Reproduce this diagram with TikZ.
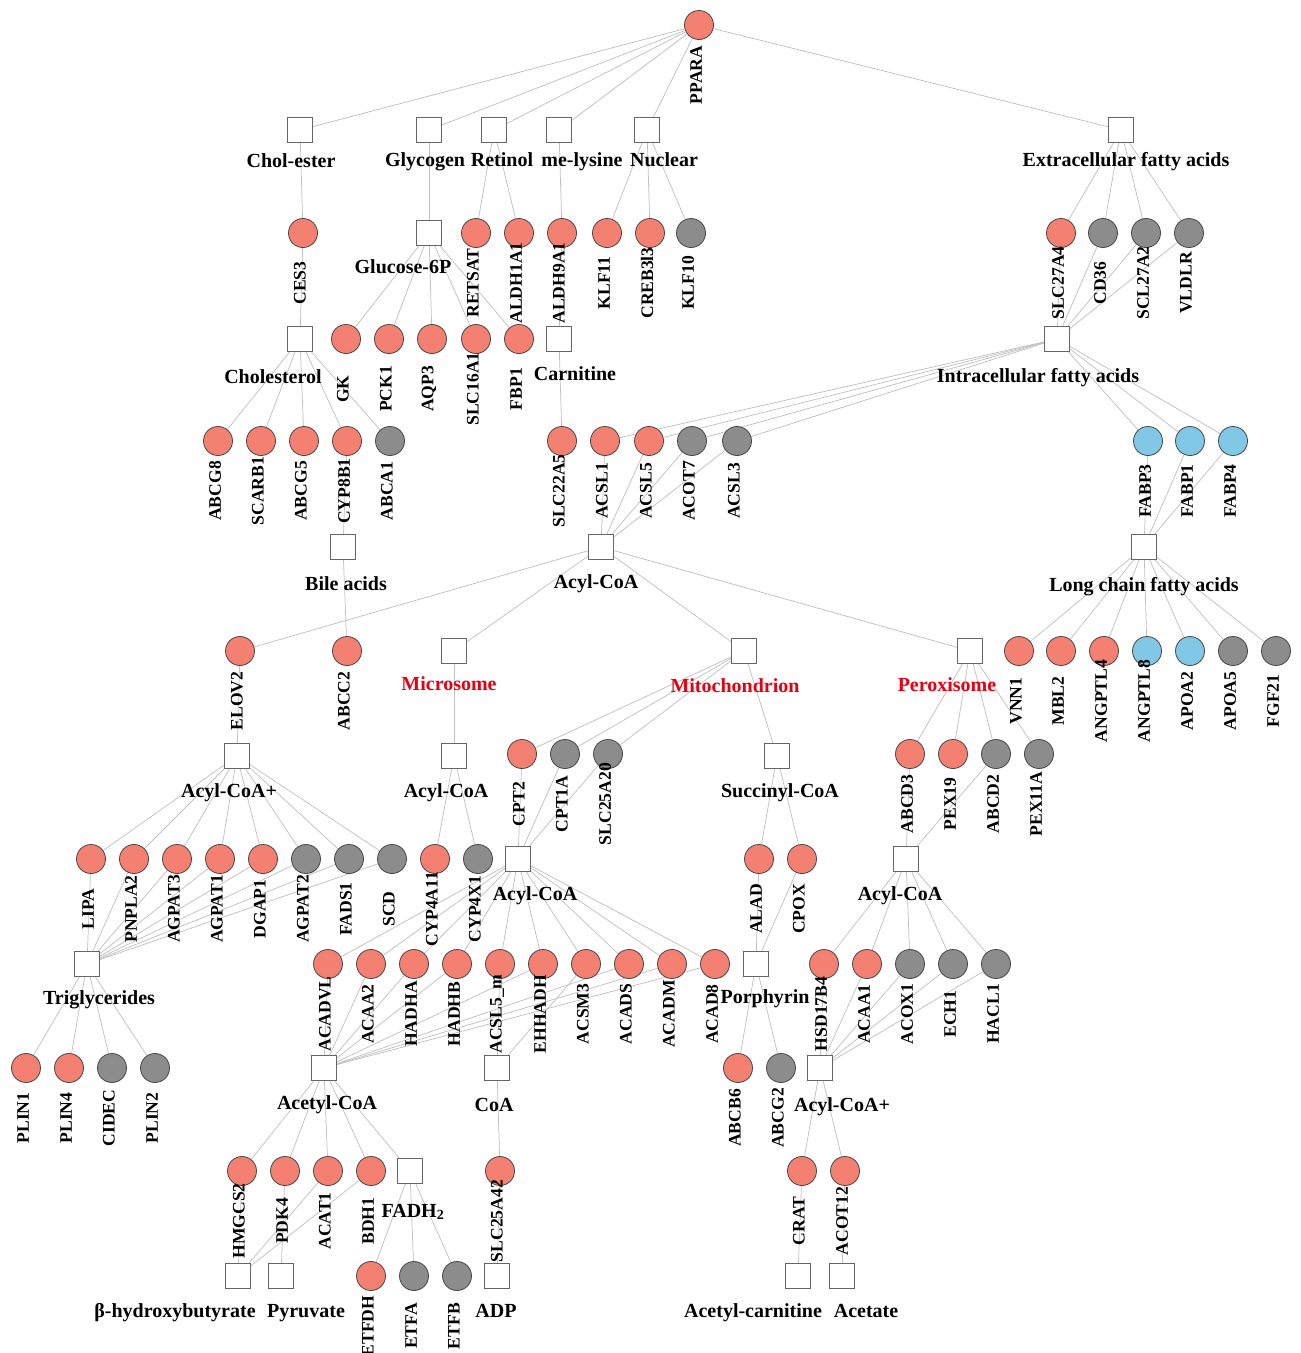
\documentclass[tikz,border=0pt]{standalone}
\usepackage{fontspec}
\setmainfont{Liberation Serif}
\usetikzlibrary{backgrounds}
\definecolor{redf}{RGB}{244,128,114}
\definecolor{greyf}{RGB}{140,140,140}
\definecolor{bluef}{RGB}{128,200,230}
\definecolor{edgec}{RGB}{192,192,192}
\definecolor{txtred}{RGB}{230,0,18}
\tikzset{
 gene/.style={circle, draw=black!72, line width=0.6pt, minimum size=21.75pt, inner sep=0pt},
 gred/.style={gene, fill=redf},
 ggry/.style={gene, fill=greyf},
 gblu/.style={gene, fill=bluef},
 met/.style={rectangle, draw=black!60, line width=0.7pt, fill=white, minimum size=18.75pt, inner sep=0pt},
 glab/.style={rotate=90, font=\bfseries\fontsize{13.2}{15}\selectfont, inner sep=0pt},
 mlab/.style={font=\bfseries\fontsize{15}{17}\selectfont, inner sep=0pt, anchor=base},
 clab/.style={mlab, text=txtred},
 edge/.style={draw=edgec, line width=0.55pt},
}
\newcommand{\gn}[5]{\node[#4] (#1) at (#2,#3) {}; \node[glab] (#1-l) at (#2-3,#3+50) {#5};}
\newcommand{\mn}[7][mlab]{\node[met] (#2) at (#3,#4) {}; \node[#1] (#2-l) at (#6,#7) {#5};}
\newcommand{\ed}[2]{\foreach \t in {#2} {\draw[edge] (#1) -- (\t);}}
\begin{document}
\begin{tikzpicture}[x=0.75pt,y=-0.75pt]
\useasboundingbox (0,0) rectangle (1300,1353);
% row 1
\gn{PPARA}{699}{25}{gred}{PPARA}
% row 2
\mn{cholester}{300}{130}{Chol-ester}{291}{167}
\mn{glycogen}{429}{130}{Glycogen}{425}{166}
\mn{retinol}{494}{130}{Retinol}{502}{166}
\mn{melys}{559}{130}{me-lysine}{582}{166}
\mn{nuclear}{647}{130}{Nuclear}{664}{166}
\mn{extra}{1121}{130}{Extracellular fatty acids}{1126}{166}
% row 3
\gn{CES3}{303}{233}{gred}{CES3}
\mn{gsix}{429}{233}{Glucose-6P}{403}{273}
\gn{RETSAT}{476}{233}{gred}{RETSAT}
\gn{ALDHoneAone}{519}{233}{gred}{ALDH1A1}
\gn{ALDHnineAone}{562}{233}{gred}{ALDH9A1}
\gn{KLFeleven}{607}{233}{gred}{KLF11}
\gn{CREB}{650}{233}{gred}{CREB3l3}
\gn{KLFten}{691}{233}{ggry}{KLF10}
\gn{SLCtwosevenAfour}{1061}{233}{gred}{SLC27A4}
\gn{CDthreesix}{1103}{233}{ggry}{CD36}
\gn{SCLtwosevenAtwo}{1146}{233}{ggry}{SCL27A2}
\gn{VLDLR}{1189}{233}{ggry}{VLDLR}
% row 4
\mn{cholesterol}{300}{339}{Cholesterol}{273}{383}
\gn{GK}{346}{339}{gred}{GK}
\gn{PCKone}{389}{339}{gred}{PCK1}
\gn{AQPthree}{432}{339}{gred}{AQP3}
\gn{SLConesixAone}{476}{339}{gred}{SLC16A1}
\gn{FBPone}{519}{339}{gred}{FBP1}
\mn{carnitine}{559}{339}{Carnitine}{575}{380}
\mn{intra}{1057}{339}{Intracellular fatty acids}{1038}{382}
% row 5
\gn{ABCGeight}{218}{441}{gred}{ABCG8}
\gn{SCARBone}{261}{441}{gred}{SCARB1}
\gn{ABCGfive}{304}{441}{gred}{ABCG5}
\gn{CYPeightBone}{347}{441}{gred}{CYP8B1}
\gn{ABCAone}{390}{441}{ggry}{ABCA1}
\gn{SLCtwotwoAfive}{562}{441}{gred}{SLC22A5}
\gn{ACSLone}{605}{441}{gred}{ACSL1}
\gn{ACSLfive}{649}{441}{gred}{ACSL5}
\gn{ACOTseven}{692}{441}{ggry}{ACOT7}
\gn{ACSLthree}{737}{441}{ggry}{ACSL3}
\gn{FABPthree}{1148}{441}{gblu}{FABP3}
\gn{FABPone}{1190}{441}{gblu}{FABP1}
\gn{FABPfour}{1233}{441}{gblu}{FABP4}
% row 6
\mn{bile}{343}{547}{Bile acids}{346}{590}
\mn{acyl}{601}{547}{Acyl-CoA}{596}{588}
\mn{lcfa}{1144}{547}{Long chain fatty acids}{1144}{591}
% row 7
\gn{ELOVtwo}{240}{651}{gred}{ELOV2}
\gn{ABCCtwo}{347}{651}{gred}{ABCC2}
\mn[clab]{micro}{454}{651}{Microsome}{449}{690}
\mn[clab]{mito}{744}{651}{Mitochondrion}{735}{692}
\mn[clab]{perox}{970}{651}{Peroxisome}{947}{691}
\gn{VNNone}{1019}{651}{gred}{VNN1}
\gn{MBLtwo}{1061}{651}{gred}{MBL2}
\gn{ANGPTLfour}{1104}{651}{gred}{ANGPTL4}
\gn{ANGPTLeight}{1147}{651}{gblu}{ANGPTL8}
\gn{APOAtwo}{1190}{651}{gblu}{APOA2}
\gn{APOAfive}{1233}{651}{ggry}{APOA5}
\gn{FGFtwoone}{1276}{651}{ggry}{FGF21}
% row 8
\mn{acylplus}{237}{756}{Acyl-CoA+}{229}{797}
\mn{acylmic}{454}{756}{Acyl-CoA}{446}{797}
\gn{CPTtwo}{522}{754}{gred}{CPT2}
\gn{CPToneA}{565}{754}{ggry}{CPT1A}
\gn{SLCtwofiveAtwozero}{608}{754}{ggry}{SLC25A20}
\mn{succ}{777}{756}{Succinyl-CoA}{780}{797}
\gn{ABCDthree}{910}{754}{gred}{ABCD3}
\gn{PEXonenine}{953}{754}{gred}{PEX19}
\gn{ABCDtwo}{996}{754}{ggry}{ABCD2}
\gn{PEXoneoneA}{1039}{754}{ggry}{PEX11A}
% row 9
\gn{LIPA}{91}{859}{gred}{LIPA}
\gn{PNPLAtwo}{134}{859}{gred}{PNPLA2}
\gn{AGPATthree}{177}{859}{gred}{AGPAT3}
\gn{AGPATone}{220}{859}{gred}{AGPAT1}
\gn{DGAPone}{263}{859}{gred}{DGAP1}
\gn{AGPATtwo}{306}{859}{ggry}{AGPAT2}
\gn{FADSone}{349}{859}{ggry}{FADS1}
\gn{SCD}{392}{859}{ggry}{SCD}
\gn{CYPfourAoneone}{435}{859}{gred}{CYP4A11}
\gn{CYPfourXone}{478}{859}{ggry}{CYP4X1}
\mn{acylmito}{518}{859}{Acyl-CoA}{535}{900}
\gn{ALAD}{759}{859}{gred}{ALAD}
\gn{CPOX}{802}{859}{gred}{CPOX}
\mn{acylper}{906}{859}{Acyl-CoA}{900}{900}
% row 10
\mn{trig}{87}{964}{Triglycerides}{99}{1004}
\gn{ACADVL}{328}{964}{gred}{ACADVL}
\gn{ACAAtwo}{371}{964}{gred}{ACAA2}
\gn{HADHA}{414}{964}{gred}{HADHA}
\gn{HADHB}{457}{964}{gred}{HADHB}
\gn{ACSLfivem}{500}{964}{gred}{ACSL5\_m}
\gn{EHHADH}{543}{964}{gred}{EHHADH}
\gn{ACSMthree}{586}{964}{gred}{ACSM3}
\gn{ACADS}{629}{964}{gred}{ACADS}
\gn{ACADM}{672}{964}{gred}{ACADM}
\gn{ACADeight}{715}{964}{gred}{ACAD8}
\mn{porph}{756}{964}{Porphyrin}{765}{1003}
\gn{HSDoneseven}{824}{964}{gred}{HSD17B4}
\gn{ACAAone}{867}{964}{gred}{ACAA1}
\gn{ACOXone}{910}{964}{ggry}{ACOX1}
\gn{ECHone}{953}{964}{ggry}{ECH1}
\gn{HACLone}{996}{964}{ggry}{HACL1}
% row 11
\gn{PLINone}{26}{1068}{gred}{PLIN1}
\gn{PLINfour}{69}{1068}{gred}{PLIN4}
\gn{CIDEC}{112}{1068}{ggry}{CIDEC}
\gn{PLINtwo}{155}{1068}{ggry}{PLIN2}
\mn{acetyl}{324}{1068}{Acetyl-CoA}{327}{1109}
\mn{coa}{497}{1068}{CoA}{494}{1111}
\gn{ABCBsix}{738}{1068}{gred}{ABCB6}
\gn{ABCGtwo}{781}{1068}{ggry}{ABCG2}
\mn{acylplustwo}{820}{1068}{Acyl-CoA+}{842}{1111}
% row 12
\gn{HMGCStwo}{242}{1171}{gred}{HMGCS2}
\gn{PDKfour}{285}{1171}{gred}{PDK4}
\gn{ACATone}{328}{1171}{gred}{ACAT1}
\gn{BDHone}{371}{1171}{gred}{BDH1}
\mn{fadh}{410}{1171}{FADH\textsubscript{2}}{413}{1217}
\gn{SLCtwofiveAfourtwo}{500}{1171}{gred}{SLC25A42}
\gn{CRAT}{802}{1171}{gred}{CRAT}
\gn{ACOToneTwo}{845}{1171}{gred}{ACOT12}
% row 13
\mn{bhb}{238}{1276}{β-hydroxybutyrate}{175}{1317}
\mn{pyr}{281}{1276}{Pyruvate}{306}{1317}
\gn{ETFDH}{371}{1276}{gred}{ETFDH}
\gn{ETFA}{414}{1276}{ggry}{ETFA}
\gn{ETFB}{457}{1276}{ggry}{ETFB}
\mn{adp}{497}{1276}{ADP}{496}{1317}
\mn{acarn}{798}{1276}{Acetyl-carnitine}{753}{1317}
\mn{acetate}{842}{1276}{Acetate}{866}{1317}
% edges
\begin{pgfonlayer}{background}
\ed{PPARA}{cholester,glycogen,retinol,melys,nuclear,extra}
\ed{cholester}{CES3}
\ed{CES3}{cholesterol}
\ed{glycogen}{gsix}
\ed{gsix}{GK,PCKone,AQPthree,SLConesixAone,FBPone}
\ed{retinol}{RETSAT,ALDHoneAone}
\ed{melys}{ALDHnineAone}
\ed{ALDHnineAone}{carnitine}
\ed{carnitine}{SLCtwotwoAfive}
\ed{nuclear}{KLFeleven,CREB,KLFten}
\ed{extra}{SLCtwosevenAfour,CDthreesix,SCLtwosevenAtwo,VLDLR}
\ed{intra}{SLCtwosevenAfour,CDthreesix,SCLtwosevenAtwo,VLDLR}
\ed{cholesterol}{ABCGeight,SCARBone,ABCGfive,CYPeightBone,ABCAone}
\ed{CYPeightBone}{bile}
\ed{bile}{ABCCtwo}
\ed{intra}{ACSLone,ACSLfive,ACOTseven,ACSLthree,FABPthree,FABPone,FABPfour}
\ed{acyl}{ACSLone,ACSLfive,ACOTseven,ACSLthree}
\ed{lcfa}{FABPthree,FABPone,FABPfour}
\ed{acyl}{ELOVtwo,micro,mito,perox}
\ed{lcfa}{VNNone,MBLtwo,ANGPTLfour,ANGPTLeight,APOAtwo,APOAfive,FGFtwoone}
\ed{ELOVtwo}{acylplus}
\ed{acylplus}{LIPA,PNPLAtwo,AGPATthree,AGPATone,DGAPone,AGPATtwo,FADSone,SCD}
\ed{trig}{LIPA,PNPLAtwo,AGPATthree,AGPATone,DGAPone,AGPATtwo,FADSone,SCD}
\ed{micro}{acylmic}
\ed{acylmic}{CYPfourAoneone,CYPfourXone}
\ed{mito}{CPTtwo,CPToneA,SLCtwofiveAtwozero,succ}
\ed{acylmito}{CPTtwo,CPToneA,SLCtwofiveAtwozero}
\ed{succ}{ALAD,CPOX}
\ed{porph}{ALAD,CPOX,ABCBsix,ABCGtwo}
\ed{perox}{ABCDthree,PEXonenine,ABCDtwo,PEXoneoneA}
\ed{acylper}{ABCDthree,ABCDtwo}
\ed{acylper}{HSDoneseven,ACAAone,ACOXone,ECHone,HACLone}
\ed{acylplustwo}{HSDoneseven,ACAAone,ACOXone,ECHone,HACLone}
\ed{acylplustwo}{CRAT,ACOToneTwo}
\ed{CRAT}{acarn}
\ed{ACOToneTwo}{acetate}
\ed{acylmito}{ACADVL,ACAAtwo,HADHA,HADHB,ACSLfivem,EHHADH,ACSMthree,ACADS,ACADM,ACADeight}
\ed{acetyl}{ACADVL,ACAAtwo,HADHA,HADHB,EHHADH,ACADS,ACADM,ACADeight}
\ed{coa}{ACSLfivem,ACSMthree}
\ed{trig}{PLINone,PLINfour,CIDEC,PLINtwo}
\ed{acetyl}{HMGCStwo,PDKfour,ACATone,BDHone,fadh}
\ed{bhb}{HMGCStwo,ACATone,BDHone}
\ed{pyr}{PDKfour}
\ed{fadh}{ETFDH,ETFA,ETFB}
\ed{coa}{SLCtwofiveAfourtwo}
\ed{adp}{SLCtwofiveAfourtwo}
\end{pgfonlayer}
\end{tikzpicture}
\end{document}
